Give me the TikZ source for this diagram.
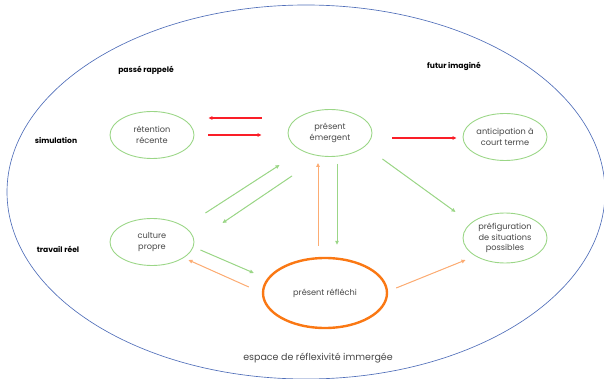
\documentclass[tikz,border=0pt]{standalone}
\usepackage{fontspec}
\setmainfont{Poppins}
\usetikzlibrary{shapes.geometric,arrows.meta}

\definecolor{bulle}{RGB}{155,214,135}
\definecolor{rouge}{RGB}{250,30,40}
\definecolor{orfonce}{RGB}{250,120,20}
\definecolor{orclair}{RGB}{252,172,115}
\definecolor{bleu}{RGB}{80,110,185}
\definecolor{texte}{RGB}{70,70,70}

\begin{document}
\begin{tikzpicture}[x=1pt,y=-1pt,
  bubble/.style={ellipse,draw=bulle,line width=0.9pt,minimum width=84pt,minimum height=47pt,
    inner xsep=-9pt,inner ysep=-1pt,align=center,text=texte,font=\fontsize{8.2}{10.5}\selectfont},
  titre/.style={font=\fontsize{7.6}{10}\selectfont\bfseries},
  fl/.style={-{Triangle[length=4pt,width=3.6pt]},line width=1pt},
  red/.style={fl,draw=rouge,line width=1.2pt,fill=rouge},
  vert/.style={fl,draw=bulle,fill=bulle},
  orange/.style={fl,draw=orclair,fill=orclair}]
\useasboundingbox (0,0) rectangle (604,379);
\draw[bleu,line width=0.65pt] (306,192) ellipse [x radius=299pt,y radius=187pt];

\node[titre] (passe) at (146,70) {passé rappelé};
\node[titre] (futur) at (454,66) {futur imaginé};
\node[titre] (simu) at (56,140) {simulation};
\node[titre] (trav) at (58,249) {travail réel};
\node[text=texte,font=\fontsize{9.5}{11}\selectfont] (espace) at (318,358) {espace de réflexivité immergée};

\node[bubble] (ret) at (152,135) {rétention\\récente};
\node[bubble] (emg) at (330,133) {présent\\émergent};
\node[bubble] (anti) at (505,137) {anticipation à\\court terme};
\node[bubble] (cult) at (152,242) {culture\\propre};
\node[bubble,minimum height=50pt] (pref) at (505,238) {préfiguration\\de situations\\possibles};
\node[bubble,draw=orfonce,line width=2.4pt,minimum width=124pt,minimum height=70pt] (refl) at (325,293) {présent réfléchi};

\draw[red] ([xshift=-26pt,yshift=15pt]emg.west) -- ([xshift=14pt,yshift=17pt]ret.east);
\draw[red] ([xshift=14pt]ret.east) -- ([xshift=-26pt,yshift=-2pt]emg.west);
\draw[red] ([xshift=20pt,yshift=-5pt]emg.east) -- ([xshift=-6pt,yshift=-1pt]anti.west);

\draw[vert] ([xshift=11pt,yshift=29pt]cult.east) -- ([xshift=-8pt,yshift=-32pt]emg.west);
\draw[vert] ([xshift=-38pt,yshift=-19pt]emg.south) -- ([xshift=28pt,yshift=19pt]cult.east);
\draw[vert] ([xshift=7pt,yshift=-7pt]emg.south) -- ([xshift=12pt,yshift=12pt]refl.north);
\draw[vert] ([xshift=10pt,yshift=-26pt]emg.east) -- ([xshift=-7pt,yshift=26pt]pref.west);
\draw[vert] ([xshift=6pt,yshift=-8pt]cult.east) -- ([xshift=-8pt,yshift=20pt]refl.west);

\draw[orange] ([xshift=-7pt,yshift=11pt]refl.north) -- ([xshift=-12pt,yshift=-6pt]emg.south);
\draw[orange] ([xshift=-13pt,yshift=6pt]refl.west) -- ([xshift=-6pt,yshift=-18pt]cult.east);
\draw[orange] ([xshift=8pt,yshift=5pt]refl.east) -- ([xshift=3pt,yshift=-22pt]pref.west);
\end{tikzpicture}
\end{document}
